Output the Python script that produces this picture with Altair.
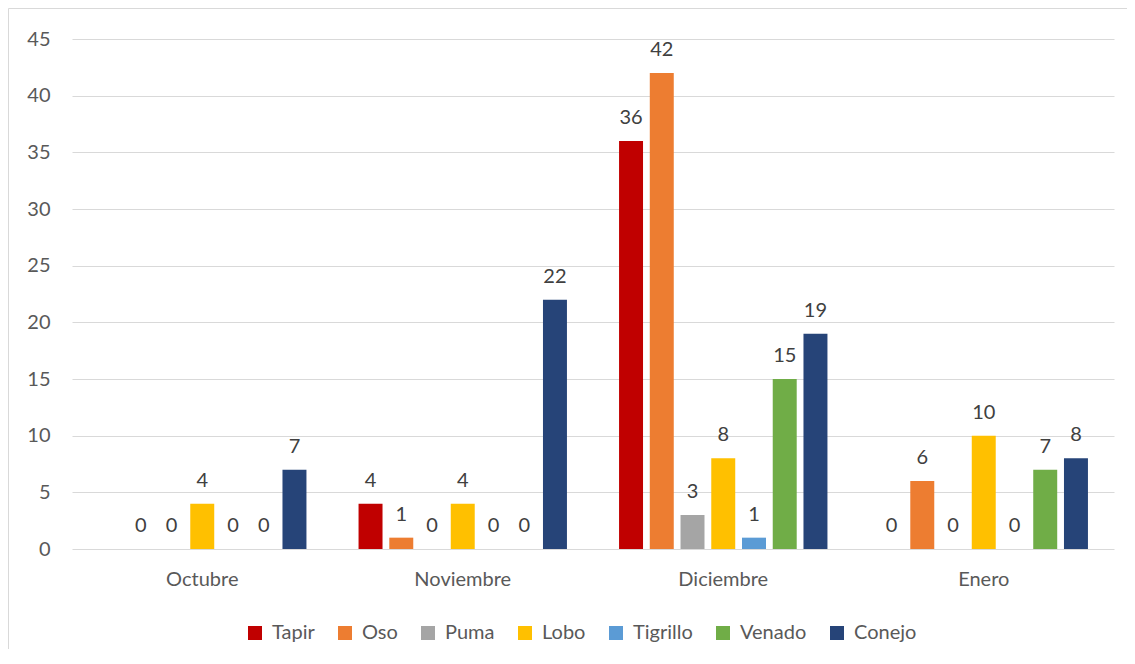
import altair as alt
import pandas as pd

meses = ["Octubre", "Noviembre", "Diciembre", "Enero"]
especies = ["Tapir", "Oso", "Puma", "Lobo", "Tigrillo", "Venado", "Conejo"]
tapir = [None, 4, 36, 0]
oso = [0, 1, 42, 6]
puma = [0, 0, 3, 0]
lobo = [4, 4, 8, 10]
tigrillo = [0, 0, 1, 0]
venado = [0, 0, 15, 7]
conejo = [7, 22, 19, 8]
colores = ["#C00000", "#ED7D31", "#A5A5A5", "#FFC000", "#5B9BD5", "#70AD47", "#264478"]
y_ticks = [0, 5, 10, 15, 20, 25, 30, 35, 40, 45]

series = [tapir, oso, puma, lobo, tigrillo, venado, conejo]
rows = []
for esp, vals in zip(especies, series):
    for mes, v in zip(meses, vals):
        rows.append({"Mes": mes, "Especie": esp, "Valor": v})
df = pd.DataFrame(rows)

FONT = "Lato"
W, H = 1042, 510

x_enc = alt.X("Mes:N", sort=meses, title=None,
              scale=alt.Scale(paddingInner=0.2, paddingOuter=0.1),
              axis=alt.Axis(labelAngle=0, domain=False, ticks=False, labelPadding=20,
                            labelFontSize=20, labelColor="#595959", labelFont=FONT))
xo_enc = alt.XOffset("Especie:N", sort=especies,
                     scale=alt.Scale(paddingInner=0.22, paddingOuter=0))
y_enc = alt.Y("Valor:Q", title=None,
              scale=alt.Scale(domain=[0, 45], nice=False),
              axis=alt.Axis(values=y_ticks, domain=False, ticks=False, labelPadding=22,
                            labelFontSize=20, labelColor="#595959", labelFont=FONT,
                            gridColor="#D9D9D9", gridWidth=1))

base = alt.Chart(df)

bars = base.mark_bar().encode(
    x=x_enc,
    xOffset=xo_enc,
    y=y_enc,
    color=alt.Color("Especie:N", sort=especies,
                    scale=alt.Scale(domain=especies, range=colores),
                    legend=alt.Legend(orient="none", direction="horizontal", title=None,
                                      legendX=173, legendY=584,
                                      symbolType="square", symbolSize=196,
                                      symbolStrokeWidth=0, labelFontSize=20,
                                      labelFont=FONT, labelColor="#595959",
                                      labelOffset=7, columnPadding=20)),
)

labels = base.mark_text(font=FONT, fontSize=20, color="#404040",
                        baseline="alphabetic", dy=-17).encode(
    x=alt.X("Mes:N", sort=meses),
    xOffset=alt.XOffset("Especie:N", sort=especies),
    y=alt.Y("Valor:Q"),
    text=alt.Text("Valor:Q", format="d"),
)

frame_df = pd.DataFrame({"a": [0]})
frame_left = alt.Chart(frame_df).mark_rule(color="#D9D9D9", strokeWidth=1).encode(
    x=alt.value(-63.5), y=alt.value(-30.5), y2=alt.value(700)
)
frame_top = alt.Chart(frame_df).mark_rule(color="#D9D9D9", strokeWidth=1).encode(
    x=alt.value(-63.5), x2=alt.value(1200), y=alt.value(-30.5)
)

chart = alt.layer(bars, labels, frame_left, frame_top).properties(
    width=W, height=H,
    autosize=alt.AutoSizeParams(type="none"),
    padding={"left": 64, "top": 31, "right": 13, "bottom": 100},
).configure_view(stroke=None)

chart.save("out.html", embed_options={"renderer": "svg", "actions": False})
